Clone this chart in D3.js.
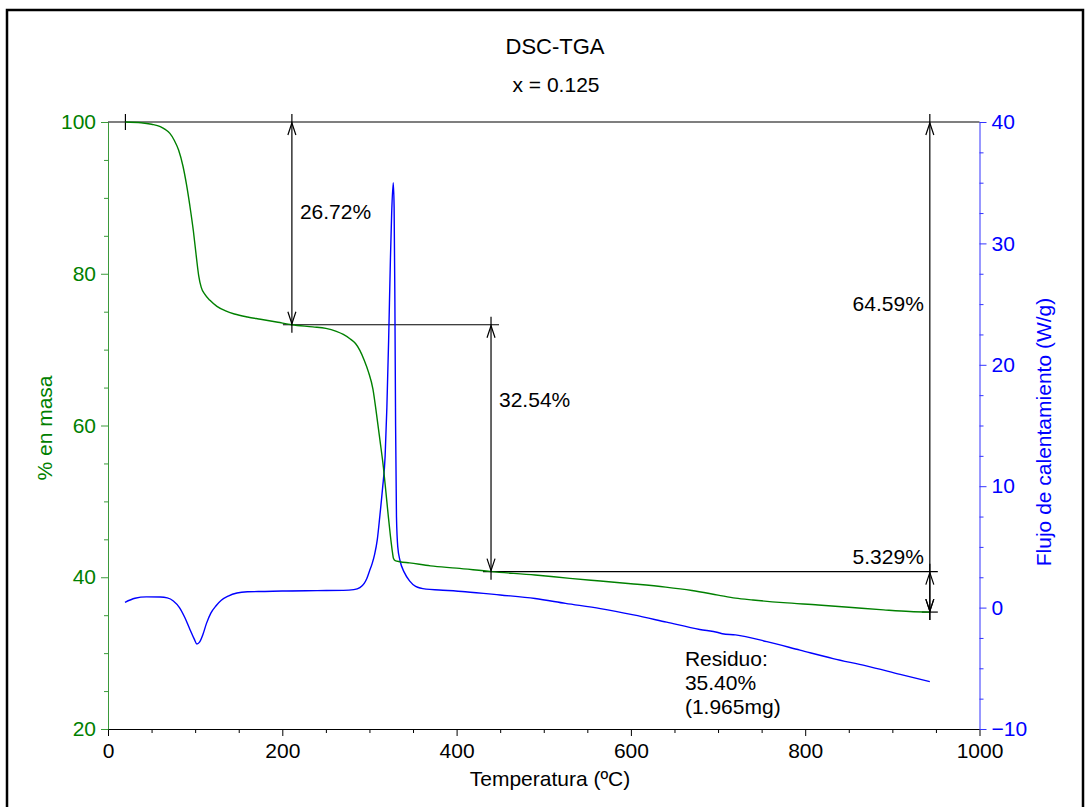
<!DOCTYPE html>
<html>
<head>
<meta charset="utf-8">
<script src="https://cdn.jsdelivr.net/npm/d3@7"></script>
<style>
  html, body { margin: 0; padding: 0; background: #fff; }
  svg { display: block; }
  text { font-family: "Liberation Sans", Arial, sans-serif; }
</style>
</head>
<body>
<svg id="chart" width="1087" height="807"></svg>
<script>
// TGA trace: temperature (°C) vs remaining mass (%)
const tgaTemp = [20, 38, 50, 60, 66, 71, 76, 81, 86, 90, 94, 98, 101, 104, 107, 111, 117, 125, 135, 145, 160, 175, 195, 211, 235, 250, 262, 270, 278, 284, 289, 294, 299, 304, 308, 312, 316, 319, 321.5, 324, 326.5, 327.5, 329.5, 335, 346, 370, 400, 440, 490, 530, 565, 600, 640, 670, 700, 720, 740, 775, 815, 850, 890, 920, 943];
const tgaMass = [100, 99.9, 99.7, 99.4, 99.0, 98.5, 97.6, 96.3, 94.2, 91.8, 88.9, 85.6, 82.6, 79.8, 78.2, 77.3, 76.5, 75.7, 75.1, 74.7, 74.3, 74.0, 73.6, 73.28, 73.0, 72.8, 72.4, 72.0, 71.4, 70.8, 69.9, 68.6, 67.0, 64.8, 61.6, 58.1, 54.5, 51.1, 48.2, 45.5, 43.2, 42.5, 42.2, 42.05, 41.9, 41.5, 41.2, 40.74, 40.3, 39.85, 39.5, 39.15, 38.7, 38.25, 37.65, 37.25, 37.0, 36.65, 36.35, 36.05, 35.7, 35.48, 35.40];

// DSC trace: temperature (°C) vs heat flow (W/g)
const dscTemp = [19.5, 31, 44, 60, 68, 75, 82, 88, 94, 99, 102, 105, 109, 113, 118, 124, 130, 138, 148, 160, 180, 200, 240, 270, 282, 289, 294, 297, 300, 303, 306, 309, 312, 315, 318, 320, 322, 324, 325.5, 327.3, 328.3, 329.2, 330, 331, 332.5, 335, 340, 346, 353, 365, 380, 410, 450, 490, 525, 565, 603, 641, 679, 700, 705, 720, 756, 794, 832, 870, 909, 943];
const dscFlow = [0.44, 0.77, 0.88, 0.87, 0.8, 0.55, 0.0, -0.8, -1.8, -2.6, -3.0, -2.85, -2.2, -1.3, -0.45, 0.15, 0.6, 0.95, 1.2, 1.3, 1.33, 1.37, 1.4, 1.42, 1.48, 1.65, 2.0, 2.4, 3.0, 3.6, 4.4, 5.6, 7.6, 9.8, 12.5, 16.5, 22, 28.5, 32.5, 35.0, 33, 25, 15, 7.5, 5.0, 3.9, 2.9, 2.2, 1.75, 1.52, 1.45, 1.31, 1.04, 0.75, 0.35, -0.08, -0.6, -1.2, -1.8, -2.05, -2.15, -2.25, -2.8, -3.5, -4.2, -4.8, -5.5, -6.1];

// Mass-loss steps measured on the TGA curve
const stepTemps = [211, 439.5, 943, 943];
const stepUpper = [100, 73.28, 100, 40.74];
const stepLower = [73.28, 40.74, 35.41, 35.41];
const stepLabels = ["26.72%", "32.54%", "64.59%", "5.329%"];

// Residue note
const residueLines = ["Residuo:", "35.40%", "(1.965mg)"];
const residueTemp = 662;
const residueMass = 28.3;

// Axis ticks
const tempTicks = [0, 200, 400, 600, 800, 1000];
const massTicks = [20, 40, 60, 80, 100];
const flowTicks = [-10, 0, 10, 20, 30, 40];

const GREEN = "#008000";
const BLUE = "#0000ff";
const FS = 21;

const svg = d3.select("#chart");

// outer frame
svg.append("rect")
  .attr("x", 7).attr("y", 10)
  .attr("width", 1076).attr("height", 820)
  .attr("fill", "none").attr("stroke", "#000").attr("stroke-width", 2.5);

const plotL = 108, plotR = 979.5, plotT = 122, plotB = 729;

const x = d3.scaleLinear().domain([0, 1000]).range([plotL, plotR]);
const yMass = d3.scaleLinear().domain([20, 100]).range([plotB, plotT]);
const yFlow = d3.scaleLinear().domain([-10, 40]).range([plotB, plotT]);

// titles
svg.append("text").attr("x", 555).attr("y", 54).attr("text-anchor", "middle")
  .attr("font-size", 22).text("DSC-TGA");
svg.append("text").attr("x", 556).attr("y", 92).attr("text-anchor", "middle")
  .attr("font-size", FS).text("x = 0.125");

// axes helper: major ticks with labels plus unlabeled minor ticks
function styleAxis(g, color) {
  g.selectAll("path.domain").attr("stroke", color);
  g.selectAll(".tick line").attr("stroke", color);
  g.selectAll(".tick text").attr("fill", color)
    .attr("font-size", FS).attr("font-family", "'Liberation Sans', Arial, sans-serif");
}

// bottom axis
const xMinor = d3.range(0, 1001, 50).filter(v => v % 200 !== 0);
const gxMinor = svg.append("g").attr("transform", `translate(0,${plotB})`)
  .call(d3.axisBottom(x).tickValues(xMinor).tickSize(4).tickFormat(""));
gxMinor.select("path.domain").remove();
styleAxis(gxMinor, "#000");
const gx = svg.append("g").attr("transform", `translate(0,${plotB})`)
  .call(d3.axisBottom(x).tickValues(tempTicks).tickSize(7).tickSizeOuter(0).tickPadding(7).tickFormat(d3.format("d")));
styleAxis(gx, "#000");

// left axis (mass)
const mMinor = d3.range(20, 101, 5).filter(v => v % 20 !== 0);
const gmMinor = svg.append("g").attr("transform", `translate(${plotL},0)`)
  .call(d3.axisLeft(yMass).tickValues(mMinor).tickSize(4).tickFormat(""));
gmMinor.select("path.domain").remove();
styleAxis(gmMinor, "#3a9a3a");
const gm = svg.append("g").attr("transform", `translate(${plotL},0)`)
  .call(d3.axisLeft(yMass).tickValues(massTicks).tickSize(7).tickSizeOuter(0).tickPadding(5));
styleAxis(gm, "#3a9a3a");
gm.selectAll(".tick text").attr("fill", GREEN);

// right axis (heat flow)
const fMinor = d3.range(-10, 40.1, 2.5).filter(v => v % 10 !== 0);
const gfMinor = svg.append("g").attr("transform", `translate(${plotR},0)`)
  .call(d3.axisRight(yFlow).tickValues(fMinor).tickSize(4).tickFormat(""));
gfMinor.select("path.domain").remove();
styleAxis(gfMinor, "#3333ff");
const gf = svg.append("g").attr("transform", `translate(${plotR},0)`)
  .call(d3.axisRight(yFlow).tickValues(flowTicks).tickSize(7).tickSizeOuter(0).tickPadding(5));
styleAxis(gf, "#3333ff");
gf.selectAll(".tick text").attr("fill", BLUE);

// axis titles
svg.append("text").attr("x", 550).attr("y", 786).attr("text-anchor", "middle")
  .attr("font-size", FS).text("Temperatura (ºC)");
svg.append("text").attr("transform", "translate(52,428) rotate(-90)")
  .attr("text-anchor", "middle").attr("font-size", FS).attr("fill", GREEN).text("% en masa");
svg.append("text").attr("transform", "translate(1051,432) rotate(-90)")
  .attr("text-anchor", "middle").attr("font-size", FS).attr("fill", BLUE).text("Flujo de calentamiento (W/g)");

// step reference lines (horizontal)
const ext = 8;
const sx = stepTemps.map(t => x(t));
const refLines = [
  { v: stepUpper[0], x1: plotL, x2: plotR },
  { v: stepLower[0], x1: sx[0] - ext - 1, x2: sx[1] + ext },
  { v: stepLower[1], x1: sx[1] - ext, x2: sx[2] + ext },
  { v: stepLower[2], x1: sx[2] - ext, x2: sx[2] + ext }
];
svg.append("g").selectAll("line").data(refLines).join("line")
  .attr("x1", d => d.x1).attr("x2", d => d.x2)
  .attr("y1", d => yMass(d.v)).attr("y2", d => yMass(d.v))
  .attr("stroke", "#000").attr("stroke-width", 1.2);

// start marker
svg.append("line")
  .attr("x1", x(tgaTemp[0])).attr("x2", x(tgaTemp[0]))
  .attr("y1", yMass(100) - 8).attr("y2", yMass(100) + 8)
  .attr("stroke", "#000").attr("stroke-width", 1.2);

// curves
const tgaLine = d3.line().x((d, i) => x(tgaTemp[i])).y(d => yMass(d)).curve(d3.curveMonotoneX);
const dscLine = d3.line().x((d, i) => x(dscTemp[i])).y(d => yFlow(d)).curve(d3.curveMonotoneX);

svg.append("path").attr("d", dscLine(dscFlow))
  .attr("fill", "none").attr("stroke", BLUE).attr("stroke-width", 1.4);
svg.append("path").attr("d", tgaLine(tgaMass))
  .attr("fill", "none").attr("stroke", GREEN).attr("stroke-width", 1.4);

// step arrows
const arrows = svg.append("g").attr("stroke", "#000").attr("fill", "none").attr("stroke-width", 1.2);
stepTemps.forEach((t, i) => {
  const xx = x(t);
  const y1 = yMass(stepUpper[i]);
  const y2 = yMass(stepLower[i]);
  arrows.append("line").attr("x1", xx).attr("x2", xx)
    .attr("y1", y1 - ext).attr("y2", y2 + ext);
  arrows.append("path").attr("d", `M${xx - 4},${y1 + 13}L${xx},${y1 + 1}L${xx + 4},${y1 + 13}`);
  arrows.append("path").attr("d", `M${xx - 4},${y2 - 13}L${xx},${y2 - 1}L${xx + 4},${y2 - 13}`);
});

// step labels (vertical anchor given in % mass)
const labelPos = [
  { dx: 8, anchor: "start", v: 88.2 },
  { dx: 8, anchor: "start", v: 63.4 },
  { dx: -6, anchor: "end", v: 76.1 },
  { dx: -6, anchor: "end", v: 42.7 }
];
stepLabels.forEach((s, i) => {
  svg.append("text")
    .attr("x", x(stepTemps[i]) + labelPos[i].dx)
    .attr("y", yMass(labelPos[i].v) + 7.5)
    .attr("text-anchor", labelPos[i].anchor)
    .attr("font-size", FS).text(s);
});

// residue note
residueLines.forEach((s, i) => {
  svg.append("text")
    .attr("x", x(residueTemp)).attr("y", yMass(residueMass) + i * 24)
    .attr("font-size", FS).text(s);
});
</script>
</body>
</html>
